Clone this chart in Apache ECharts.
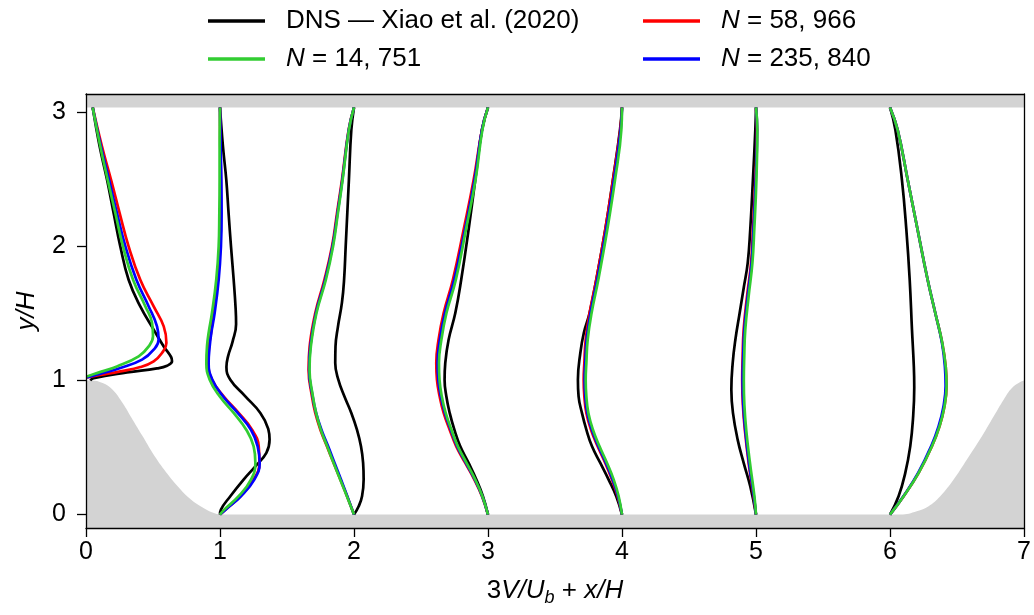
<!DOCTYPE html>
<html><head><meta charset="utf-8">
<script src="https://cdn.jsdelivr.net/npm/echarts@6/dist/echarts.min.js"></script>
<style>html,body{margin:0;padding:0;background:#fff}#c{width:1034px;height:615px}</style>
</head><body><div id="c"></div>
<script>
// Station positions x/H where profiles are taken
const stationX = [0.05, 1, 2, 3, 4, 5, 6];
// Upper wall height y/H
const channelTop = 3.036;
// Lower wall (hill) outline [x/H, y/H]
const hillProfile = [[0,1.0],[0.04,1.0],[0.124,0.981],[0.199,0.931],[0.273,0.832],[0.348,0.708],[0.423,0.584],[0.497,0.46],[0.584,0.335],[0.684,0.211],[0.783,0.112],[0.883,0.045],[0.96,0.01],[1.02,0],[6.08,0],[6.2,0.025],[6.288,0.062],[6.375,0.137],[6.475,0.261],[6.574,0.41],[6.686,0.584],[6.774,0.733],[6.848,0.857],[6.91,0.944],[6.975,0.99],[7.0,1.0]];

// Profiles per station: [3V/Ub, y/H]
const dnsProfiles = [
 [[0,3.036],[0.052,2.745],[0.107,2.496],[0.156,2.248],[0.206,2.0],[0.268,1.751],[0.355,1.552],[0.455,1.379],[0.53,1.254],[0.585,1.175],[0.592,1.143],[0.555,1.11],[0.48,1.09],[0.256,1.06],[0.007,1.018],[-0.018,1.0]],
 [[0,3.036],[0.022,2.745],[0.047,2.496],[0.064,2.248],[0.082,2.0],[0.102,1.751],[0.117,1.53],[0.12,1.42],[0.094,1.29],[0.06,1.18],[0.048,1.1],[0.077,1.006],[0.189,0.882],[0.301,0.758],[0.36,0.64],[0.37,0.559],[0.346,0.46],[0.264,0.36],[0.176,0.261],[0.077,0.137],[0.007,0.037],[0,0]],
 [[0,3.036],[-0.02,2.869],[-0.038,2.496],[-0.05,2.248],[-0.062,2.0],[-0.074,1.751],[-0.09,1.58],[-0.12,1.4],[-0.138,1.254],[-0.14,1.13],[-0.117,1.006],[-0.072,0.882],[-0.02,0.758],[0.022,0.633],[0.052,0.509],[0.068,0.385],[0.072,0.261],[0.06,0.137],[0.035,0.062],[0,0]],
 [[0,3.036],[-0.045,2.869],[-0.095,2.496],[-0.145,2.124],[-0.2,1.751],[-0.244,1.503],[-0.294,1.304],[-0.319,1.13],[-0.324,1.006],[-0.311,0.882],[-0.286,0.758],[-0.251,0.633],[-0.207,0.509],[-0.145,0.385],[-0.087,0.261],[-0.038,0.137],[0,0]],
 [[0,3.036],[-0.015,2.869],[-0.068,2.496],[-0.125,2.124],[-0.192,1.751],[-0.242,1.503],[-0.285,1.354],[-0.311,1.205],[-0.329,1.006],[-0.324,0.882],[-0.299,0.758],[-0.266,0.633],[-0.224,0.509],[-0.162,0.385],[-0.1,0.261],[-0.043,0.137],[0,0]],
 [[0,3.036],[-0.005,2.869],[-0.023,2.496],[-0.043,2.124],[-0.062,1.875],[-0.09,1.701],[-0.122,1.503],[-0.154,1.304],[-0.174,1.13],[-0.184,0.931],[-0.172,0.758],[-0.137,0.559],[-0.092,0.385],[-0.043,0.211],[0,0]],
 [[0,3.036],[0.04,2.869],[0.089,2.496],[0.122,2.124],[0.147,1.751],[0.164,1.379],[0.178,1.1],[0.181,0.95],[0.172,0.72],[0.151,0.509],[0.114,0.311],[0.064,0.137],[0,0]]
];
const n58966Profiles = [
 [[0,3.036],[0.069,2.745],[0.137,2.496],[0.201,2.248],[0.268,2.0],[0.355,1.751],[0.455,1.552],[0.53,1.403],[0.55,1.279],[0.517,1.205],[0.455,1.143],[0.355,1.1],[0.206,1.068],[0.057,1.041],[-0.043,1.023]],
 [[0,3.036],[0.002,2.745],[0.007,2.496],[0.007,2.248],[0.002,2.0],[-0.018,1.751],[-0.048,1.503],[-0.067,1.354],[-0.082,1.254],[-0.087,1.13],[-0.06,1.006],[0.027,0.882],[0.139,0.758],[0.239,0.633],[0.289,0.509],[0.294,0.385],[0.251,0.261],[0.152,0.137],[0.04,0.037],[0,0]],
 [[0,3.036],[-0.04,2.869],[-0.09,2.496],[-0.127,2.248],[-0.164,2.0],[-0.221,1.751],[-0.289,1.503],[-0.331,1.254],[-0.339,1.08],[-0.314,0.882],[-0.289,0.758],[-0.251,0.633],[-0.202,0.509],[-0.152,0.385],[-0.102,0.261],[-0.052,0.137],[0,0]],
 [[0,3.036],[-0.045,2.869],[-0.107,2.496],[-0.182,2.124],[-0.262,1.751],[-0.331,1.503],[-0.369,1.304],[-0.386,1.13],[-0.381,1.006],[-0.361,0.882],[-0.331,0.758],[-0.286,0.633],[-0.237,0.509],[-0.17,0.385],[-0.102,0.261],[-0.045,0.137],[0,0]],
 [[0,3.036],[-0.013,2.869],[-0.067,2.496],[-0.125,2.124],[-0.192,1.751],[-0.242,1.503],[-0.271,1.304],[-0.281,1.13],[-0.286,1.006],[-0.281,0.882],[-0.266,0.758],[-0.232,0.633],[-0.182,0.509],[-0.125,0.385],[-0.075,0.261],[-0.033,0.137],[0,0]],
 [[0,3.036],[0.007,2.869],[-0.005,2.496],[-0.023,2.124],[-0.037,1.875],[-0.067,1.627],[-0.092,1.379],[-0.1,1.17],[-0.103,1.0],[-0.098,0.82],[-0.082,0.62],[-0.055,0.385],[-0.018,0.137],[0,0]],
 [[0,3.036],[0.057,2.869],[0.132,2.496],[0.206,2.124],[0.281,1.751],[0.338,1.503],[0.39,1.28],[0.416,1.1],[0.422,0.96],[0.405,0.8],[0.37,0.66],[0.313,0.509],[0.214,0.311],[0.102,0.137],[0,0]]
];
const n235840Profiles = [
 [[0,3.036],[0.062,2.745],[0.122,2.496],[0.181,2.248],[0.244,2.0],[0.326,1.751],[0.418,1.552],[0.48,1.403],[0.492,1.304],[0.455,1.23],[0.368,1.155],[0.206,1.093],[0.057,1.05],[-0.043,1.022]],
 [[0,3.036],[0.005,2.745],[0.01,2.496],[0.012,2.248],[0.007,2.0],[-0.01,1.751],[-0.04,1.503],[-0.065,1.354],[-0.077,1.254],[-0.085,1.13],[-0.057,1.006],[0.022,0.882],[0.132,0.758],[0.231,0.633],[0.281,0.509],[0.296,0.385],[0.256,0.261],[0.156,0.137],[0.042,0.037],[0,0]],
 [[0,3.036],[-0.039,2.869],[-0.087,2.496],[-0.123,2.248],[-0.16,2.0],[-0.215,1.751],[-0.284,1.503],[-0.326,1.254],[-0.335,1.08],[-0.309,0.882],[-0.283,0.758],[-0.243,0.633],[-0.193,0.509],[-0.145,0.385],[-0.097,0.261],[-0.05,0.137],[0,0]],
 [[0,3.036],[-0.045,2.869],[-0.1,2.496],[-0.172,2.124],[-0.252,1.751],[-0.321,1.503],[-0.359,1.304],[-0.376,1.13],[-0.371,1.006],[-0.352,0.882],[-0.322,0.758],[-0.278,0.633],[-0.23,0.509],[-0.165,0.385],[-0.098,0.261],[-0.043,0.137],[0,0]],
 [[0,3.036],[-0.01,2.869],[-0.06,2.496],[-0.118,2.124],[-0.185,1.751],[-0.235,1.503],[-0.264,1.304],[-0.274,1.13],[-0.279,1.006],[-0.274,0.882],[-0.259,0.758],[-0.225,0.633],[-0.176,0.509],[-0.12,0.385],[-0.07,0.261],[-0.03,0.137],[0,0]],
 [[0,3.036],[0.008,2.869],[-0.002,2.496],[-0.019,2.124],[-0.033,1.875],[-0.062,1.627],[-0.087,1.379],[-0.096,1.17],[-0.1,1.0],[-0.095,0.82],[-0.079,0.62],[-0.052,0.385],[-0.016,0.137],[0,0]],
 [[0,3.036],[0.057,2.869],[0.132,2.496],[0.206,2.124],[0.281,1.751],[0.338,1.503],[0.388,1.28],[0.41,1.1],[0.415,0.96],[0.398,0.8],[0.363,0.66],[0.307,0.509],[0.21,0.311],[0.1,0.137],[0,0]]
];
const n14751Profiles = [
 [[0,3.036],[0.057,2.745],[0.112,2.496],[0.169,2.248],[0.226,2.0],[0.301,1.751],[0.393,1.552],[0.443,1.428],[0.45,1.329],[0.418,1.254],[0.343,1.18],[0.181,1.105],[0.032,1.055],[-0.043,1.03]],
 [[0,3.036],[-0.003,2.745],[-0.003,2.496],[-0.005,2.248],[-0.01,2.0],[-0.028,1.751],[-0.06,1.503],[-0.085,1.354],[-0.097,1.254],[-0.102,1.13],[-0.077,1.006],[-0.003,0.882],[0.102,0.758],[0.196,0.633],[0.251,0.509],[0.264,0.385],[0.231,0.261],[0.139,0.137],[0.032,0.037],[0,0]],
 [[0,3.036],[-0.038,2.869],[-0.085,2.496],[-0.12,2.248],[-0.156,2.0],[-0.21,1.751],[-0.28,1.503],[-0.322,1.254],[-0.332,1.08],[-0.307,0.882],[-0.283,0.758],[-0.248,0.633],[-0.2,0.509],[-0.152,0.385],[-0.103,0.261],[-0.053,0.137],[0,0]],
 [[0,3.036],[-0.042,2.869],[-0.093,2.496],[-0.165,2.124],[-0.24,1.751],[-0.31,1.503],[-0.348,1.304],[-0.366,1.13],[-0.362,1.006],[-0.345,0.882],[-0.316,0.758],[-0.273,0.633],[-0.225,0.509],[-0.16,0.385],[-0.095,0.261],[-0.042,0.137],[0,0]],
 [[0,3.036],[-0.005,2.869],[-0.052,2.496],[-0.11,2.124],[-0.177,1.751],[-0.227,1.503],[-0.256,1.304],[-0.266,1.13],[-0.271,1.006],[-0.266,0.882],[-0.251,0.758],[-0.217,0.633],[-0.168,0.509],[-0.112,0.385],[-0.062,0.261],[-0.025,0.137],[0,0]],
 [[0,3.036],[0.01,2.869],[0.003,2.496],[-0.013,2.124],[-0.027,1.875],[-0.055,1.627],[-0.08,1.379],[-0.088,1.17],[-0.091,1.0],[-0.087,0.82],[-0.072,0.62],[-0.045,0.385],[-0.012,0.137],[0,0]],
 [[0,3.036],[0.057,2.869],[0.132,2.496],[0.206,2.124],[0.281,1.751],[0.338,1.503],[0.39,1.28],[0.416,1.1],[0.422,0.96],[0.405,0.8],[0.37,0.66],[0.313,0.509],[0.214,0.311],[0.102,0.137],[0,0]]
];
const xTicks = [0,1,2,3,4,5,6,7];
const yTicks = [0,1,2,3];

const F = '"Liberation Sans", Arial, Helvetica, sans-serif';
const datasets = [
  {name:'DNS — Xiao et al. (2020)', color:'#000000', profiles:dnsProfiles},
  {name:'N = 58, 966', color:'#ff0000', profiles:n58966Profiles},
  {name:'N = 235, 840', color:'#0000ff', profiles:n235840Profiles},
  {name:'N = 14, 751', color:'#32cd32', profiles:n14751Profiles}
];

const series = [];
series.push({type:'line', data:hillProfile, symbol:'none', smooth:0.4,
  lineStyle:{width:0}, areaStyle:{color:'#d3d3d3', opacity:1, origin:'start'}, z:1, silent:true});
series.push({type:'line', data:[[0,channelTop],[7,channelTop]], symbol:'none',
  lineStyle:{width:0}, areaStyle:{color:'#d3d3d3', opacity:1, origin:'end'}, z:1, silent:true});
datasets.forEach((d,k)=>{
  d.profiles.forEach((prof,i)=>{
    series.push({type:'line', name:d.name, color:d.color,
      data: prof.map(p=>[stationX[i]+p[0], p[1]]),
      symbol:'none', showSymbol:false, smooth:0.45,
      lineStyle:{color:d.color, width:2.7}, itemStyle:{color:d.color},
      z:3+k, silent:true});
  });
});

const legendCommon = {orient:'vertical', top:6, padding:0, itemGap:8, itemWidth:57, itemHeight:3.5,
  icon:'rect', selectedMode:false,
  formatter: n => n.charAt(0)==='N' ? '{i|N}'+n.slice(1) : n,
  textStyle:{fontFamily:F, fontSize:26, color:'#000', lineHeight:30, padding:[0,0,0,16],
    rich:{i:{fontFamily:F, fontSize:26, fontStyle:'italic', color:'#000', lineHeight:30}}}};

const axLine = {show:true, onZero:false, lineStyle:{color:'#000', width:1.3}};
const option = {
  animation:false,
  backgroundColor:'#fff',
  grid:{left:86, right:10, top:94, bottom:87, containLabel:false},
  legend:[
    Object.assign({left:208, data:['DNS — Xiao et al. (2020)','N = 14, 751']}, legendCommon),
    Object.assign({left:643, data:['N = 58, 966','N = 235, 840']}, legendCommon)
  ],
  xAxis:[
    {type:'value', min:0, max:7, interval:1, position:'bottom', z:10,
     axisLine:axLine, axisTick:{show:true, length:9, lineStyle:{color:'#000', width:1.3}},
     axisLabel:{fontFamily:F, fontSize:25, color:'#000', margin:12, customValues:xTicks},
     splitLine:{show:false},
     name:'{n|3}{i|V/U}{s|b}{n| + }{i|x/H}', nameLocation:'middle', nameGap:48,
     nameTextStyle:{rich:{
       n:{fontFamily:F, fontSize:26, color:'#000', lineHeight:30},
       i:{fontFamily:F, fontSize:26, fontStyle:'italic', color:'#000', lineHeight:30},
       s:{fontFamily:F, fontSize:18, fontStyle:'italic', color:'#000', lineHeight:18, padding:[14,0,0,0]}}}},
    {type:'value', min:0, max:7, position:'top', z:10, axisLine:axLine,
     axisTick:{show:false}, axisLabel:{show:false}, splitLine:{show:false}}
  ],
  yAxis:[
    {type:'value', min:-0.1, max:3.136, z:10, axisLine:axLine,
     axisTick:{show:true, length:9, customValues:yTicks, lineStyle:{color:'#000', width:1.3}},
     axisLabel:{fontFamily:F, fontSize:25, color:'#000', margin:20, customValues:yTicks},
     splitLine:{show:false},
     name:'y/H', nameLocation:'middle', nameGap:46,
     nameTextStyle:{fontFamily:F, fontSize:26, fontStyle:'italic', color:'#000'}},
    {type:'value', min:-0.1, max:3.136, position:'right', z:10, axisLine:axLine,
     axisTick:{show:false}, axisLabel:{show:false}, splitLine:{show:false}}
  ],
  series:series
};
const chart = echarts.init(document.getElementById('c'), null, {renderer:'canvas'});
chart.setOption(option);
</script></body></html>
